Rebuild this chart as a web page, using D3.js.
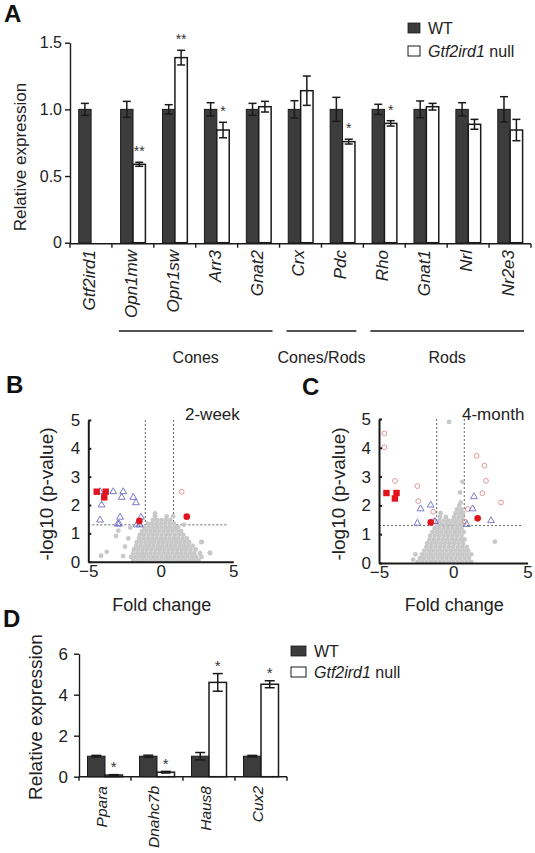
<!DOCTYPE html>
<html><head><meta charset="utf-8">
<script src="https://cdn.jsdelivr.net/npm/d3@7"></script>
<style>body{margin:0;background:#fff} svg{display:block}</style>
</head><body><svg id="c" width="535" height="853"></svg>
<script>
// ---------- Panel A data ----------
const genesA = ["Gtf2ird1","Opn1mw","Opn1sw","Arr3","Gnat2","Crx","Pdc","Rho","Gnat1","Nrl","Nr2e3"];
const wtA = [1,1,1,1,1,1,1,1,1,1,1];
const wtErrA = [0.045,0.06,0.035,0.05,0.045,0.065,0.09,0.038,0.063,0.05,0.095];
const nullA = [null,0.588,1.388,0.845,1.02,1.14,0.758,0.895,1.02,0.888,0.845];
const nullErrA = [0,0.015,0.055,0.058,0.04,0.11,0.018,0.02,0.025,0.037,0.08];
const sigA = ["","**","**","*","","","*","*","","",""];
const ticksA = [0,0.5,1.0,1.5];
const groupNames = ["Cones","Cones/Rods","Rods"];
const groupFrom = ["Opn1mw","Crx","Rho"];
const groupTo = ["Gnat2","Pdc","Nr2e3"];
const legendLabels = ["WT","null"];

// ---------- Panel B data (fold change, -log10 p) ----------
const grayRowsB = [
 [0.04,[-1.9,-1.6,-1.3,-1.0,-0.7,-0.4,-0.1,0.2,0.5,0.8,1.1,1.4,1.7,2.0,2.3,2.6]],
 [0.17,[-2.05,-1.75,-1.45,-1.15,-0.85,-0.55,-0.25,0.05,0.35,0.65,0.95,1.25,1.55,1.85,2.15,2.45,2.8]],
 [0.3,[-1.9,-1.6,-1.3,-1.0,-0.7,-0.4,-0.1,0.2,0.5,0.8,1.1,1.4,1.7,2.0,2.3,2.7,3.4]],
 [0.43,[-1.85,-1.55,-1.25,-0.95,-0.65,-0.35,-0.05,0.25,0.55,0.85,1.15,1.45,1.75,2.05,2.4]],
 [0.56,[-1.7,-1.4,-1.1,-0.8,-0.5,-0.2,0.1,0.4,0.7,1.0,1.3,1.6,1.9,2.2]],
 [0.69,[-1.65,-1.35,-1.05,-0.75,-0.45,-0.15,0.15,0.45,0.75,1.05,1.35,1.65,1.95,2.8]],
 [0.82,[-1.5,-1.2,-0.9,-0.6,-0.3,0.0,0.3,0.6,0.9,1.2,1.5,1.8]],
 [0.95,[-1.45,-1.15,-0.85,-0.55,-0.25,0.05,0.35,0.65,0.95,1.25,1.55]],
 [1.08,[-1.3,-1.0,-0.7,-0.4,-0.1,0.2,0.5,0.8,1.1,1.4]],
 [1.21,[-1.15,-0.85,-0.55,-0.25,0.05,0.35,0.65,0.95,1.2]],
 [1.34,[-0.9,-0.6,-0.3,0.0,0.3,0.6,0.9]],
 [1.47,[-0.55,-0.25,0.05,0.35,0.65]],
 [1.6,[-0.4,0.4,0.85]],
 [1.7,[-0.4]]
];
const grayExtraB = [[-3.09,0.91],[-2.93,1.1],[-3.73,0.35],[-4.12,0.21],[-2.47,0.53],[-2.24,0.82],[3.39,0.32],[2.82,0.7],[-2.1,1.2],[-1.6,1.35],[1.6,1.3],[-2.6,0.2]];
const squaresB = [[-4.42,2.47],[-3.8,2.47],[-3.9,2.27]];
const trianglesB = [[-4.19,2.47],[-3.28,2.47],[-2.59,2.47],[-2.7,2.27],[-1.9,2.27],[-1.71,2.08],[-4.08,2.0],[-4.19,1.47],[-2.81,1.57],[-2.97,1.33],[-2.88,1.33],[-1.37,1.57],[-1.66,1.3],[-1.45,1.3]];
const dotsB = [[-1.48,1.44],[1.79,1.59]];
const ringsB = [[1.44,2.47]];
const vlinesB = [-1.07,0.88];

// ---------- Panel C data ----------
const grayRowsC = [
 [0.04,[-2.4,-2.1,-1.8,-1.5,-1.2,-0.9,-0.6,-0.3,0.0,0.3,0.6,0.9,1.2]],
 [0.17,[-2.25,-1.95,-1.65,-1.35,-1.05,-0.75,-0.45,-0.15,0.15,0.45,0.75,1.05]],
 [0.3,[-2.1,-1.8,-1.5,-1.2,-0.9,-0.6,-0.3,0.0,0.3,0.6,0.9,1.2]],
 [0.43,[-1.95,-1.65,-1.35,-1.05,-0.75,-0.45,-0.15,0.15,0.45,0.75,1.0]],
 [0.56,[-1.8,-1.5,-1.2,-0.9,-0.6,-0.3,0.0,0.3,0.6,0.9]],
 [0.69,[-1.75,-1.45,-1.15,-0.85,-0.55,-0.25,0.05,0.35,0.65]],
 [0.82,[-1.6,-1.3,-1.0,-0.7,-0.4,-0.1,0.2,0.5,0.75]],
 [0.95,[-1.55,-1.25,-0.95,-0.65,-0.35,-0.05,0.25,0.55]],
 [1.08,[-1.4,-1.1,-0.8,-0.5,-0.2,0.1,0.4,0.7]],
 [1.21,[-1.25,-0.95,-0.65,-0.35,-0.05,0.25,0.55]],
 [1.34,[-1.1,-0.8,-0.5,-0.2,0.1,0.4,0.65]],
 [1.47,[-0.95,-0.65,-0.35,-0.05,0.25,0.55]],
 [1.6,[-0.9,-0.5,0.05,0.35,0.6]],
 [1.73,[-0.85,0.15,0.45,0.65]],
 [1.86,[0.25,0.55]],
 [2.0,[0.4]]
];
const grayExtraC = [[-0.28,4.9],[0.61,2.82],[0.45,2.45],[2.8,0.74],[-2.7,0.12],[-2.55,0.3],[0.5,2.1]];
const squaresC = [[-4.5,2.43],[-3.82,2.43],[-3.93,2.24]];
const trianglesC = [[-1.52,2.01],[-2.2,1.88],[-2.42,1.38],[-1.23,1.44],[1.39,2.3],[1.3,1.88],[2.54,1.47],[0.9,1.34]];
const dotsC = [[-1.52,1.41],[1.64,1.55]];
const ringsC = [[-4.64,4.5],[-4.64,4.02],[-3.92,2.85],[-2.42,2.67],[-2.36,2.15],[-1.35,1.78],[-1.35,1.45],[1.57,3.72],[2.09,3.38],[2.2,2.85],[1.96,2.42],[3.21,2.1],[0.97,1.875],[0.79,1.44]];
const vlinesC = [-1.12,0.74];
const pThreshold = 1.3;
const volcanoXTicks = [-5,0,5];
const volcanoYTicks = [0,1,2,3,4,5];

// ---------- Panel D data ----------
const genesD = ["Ppara","Dnahc7b","Haus8","Cux2"];
const wtD = [1,1,1,1];
const wtErrD = [0.04,0.05,0.18,0.04];
const nullD = [0.08,0.22,4.6,4.51];
const nullErrD = [0.02,0.04,0.43,0.17];
const sigD = ["*","*","*","*"];
const ticksD = [0,2,4,6];

// ---------- drawing ----------
const FONT = "Liberation Sans, Arial, Helvetica, sans-serif";
const INK = "#1a1a1a";
const WTFILL = "#3c3c3c";
const svg = d3.select("#c").attr("font-family", FONT);

function styleAxis(g, fs, sw){
  g.attr("font-family", FONT).attr("font-size", fs);
  g.selectAll("text").attr("fill", "#222");
  g.selectAll("path.domain").attr("stroke", INK).attr("stroke-width", sw);
  g.selectAll(".tick line").attr("stroke", INK).attr("stroke-width", sw);
}
function errBar(g, cx, yTop, yBot, cap, sw){
  g.append("line").attr("x1",cx).attr("x2",cx).attr("y1",yTop).attr("y2",yBot).attr("stroke",INK).attr("stroke-width",sw);
  [yTop,yBot].forEach(y=>g.append("line").attr("x1",cx-cap/2).attr("x2",cx+cap/2).attr("y1",y).attr("y2",y).attr("stroke",INK).attr("stroke-width",sw));
}
function panelLetter(t,x,y){
  svg.append("text").attr("x",x).attr("y",y).attr("font-size",24).attr("font-weight","bold").attr("fill","#111").text(t);
}

// ===== Panel A =====
panelLetter("A",4,22);
const xA = d3.scaleBand().domain(genesA).range([70,531]);
const subA = d3.scaleBand().domain(["WT","null"]).range([8.7,33.5]);
const yA = d3.scaleLinear().domain([0,1.5]).range([242.7,42.7]);
const gA = svg.append("g");
const axA = gA.append("g").attr("transform","translate(70,0)")
  .call(d3.axisLeft(yA).tickValues(ticksA).tickFormat(d=>d===0?"0":d.toFixed(1)).tickSizeInner(5).tickSizeOuter(0).tickPadding(3));
styleAxis(axA,16,1.4);
const y0A = yA(0)+1;
gA.append("line").attr("x1",xA.range()[0]).attr("x2",xA.range()[1]).attr("y1",y0A).attr("y2",y0A).attr("stroke",INK).attr("stroke-width",1.4);
[...genesA.map(g=>xA(g)), xA.range()[1]].forEach(x=>gA.append("line").attr("x1",x).attr("x2",x).attr("y1",y0A).attr("y2",y0A+4).attr("stroke",INK).attr("stroke-width",1.4));
genesA.forEach((g,i)=>{
  const xw = xA(g)+subA("WT"), xn = xA(g)+subA("null"), bw = subA.bandwidth();
  gA.append("rect").attr("x",xw).attr("y",yA(wtA[i])).attr("width",bw).attr("height",yA(0)-yA(wtA[i])).attr("fill",WTFILL).attr("stroke",INK).attr("stroke-width",1);
  errBar(gA, xw+bw/2, yA(wtA[i]+wtErrA[i]), yA(wtA[i]-wtErrA[i]), 8, 1.5);
  if(nullA[i]!==null){
    gA.append("rect").attr("x",xn).attr("y",yA(nullA[i])).attr("width",bw).attr("height",yA(0)-yA(nullA[i])).attr("fill","#fff").attr("stroke",INK).attr("stroke-width",1.5);
    errBar(gA, xn+bw/2, yA(nullA[i]+nullErrA[i]), yA(nullA[i]-nullErrA[i]), 8, 1.5);
    if(sigA[i]) gA.append("text").attr("x",xn+bw/2).attr("y",yA(nullA[i]+nullErrA[i])-14+8).attr("text-anchor","middle").attr("font-size",14).attr("fill","#333").text(sigA[i]);
  }
  gA.append("text").attr("transform",`translate(${xA(g)+xA.bandwidth()/2-2},250) rotate(-90)`).attr("text-anchor","end").attr("dy","0.35em").attr("font-size",17).attr("font-style","italic").attr("fill","#222").text(g);
});
gA.append("text").attr("transform","translate(20,157) rotate(-90)").attr("text-anchor","middle").attr("dy","0.35em").attr("font-size",17).attr("fill","#222").text("Relative expression");
groupNames.forEach((n,i)=>{
  const x1 = xA(groupFrom[i])+7, x2 = xA(groupTo[i])+xA.bandwidth()-7;
  gA.append("line").attr("x1",x1).attr("x2",x2).attr("y1",331).attr("y2",331).attr("stroke",INK).attr("stroke-width",1.5);
  gA.append("text").attr("x",(x1+x2)/2).attr("y",363).attr("text-anchor","middle").attr("font-size",16).attr("fill","#222").text(n);
});
function legend(g, x, y, w, h, gap, fs){
  g.append("rect").attr("x",x).attr("y",y).attr("width",w).attr("height",h).attr("fill",WTFILL).attr("stroke",INK).attr("stroke-width",0.8);
  g.append("text").attr("x",x+w+8).attr("y",y+h/2+5.8).attr("font-size",fs).attr("fill","#222").text(legendLabels[0]);
  g.append("rect").attr("x",x).attr("y",y+gap).attr("width",w).attr("height",h).attr("fill","#fff").attr("stroke",INK).attr("stroke-width",1);
  const t = g.append("text").attr("x",x+w+8).attr("y",y+gap+h/2+5.8).attr("font-size",fs).attr("fill","#222");
  t.append("tspan").attr("font-style","italic").text("Gtf2ird1");
  t.append("tspan").text(" "+legendLabels[1]);
}
legend(gA, 408, 23, 12, 10, 23, 16);

// ===== Panels B, C =====
function volcano(o){
  const g = svg.append("g");
  const x = d3.scaleLinear().domain([-5,5]).range(o.xr);
  const y = d3.scaleLinear().domain([0,5]).range(o.yr);
  o.vl.forEach(v=>g.append("line").attr("x1",x(v)).attr("x2",x(v)).attr("y1",y(5)).attr("y2",y(pThreshold)).attr("stroke","#555").attr("stroke-width",0.9).attr("stroke-dasharray","2,2"));
  g.append("line").attr("x1",x(-5)).attr("x2",x(4.6)).attr("y1",y(pThreshold)).attr("y2",y(pThreshold)).attr("stroke","#555").attr("stroke-width",0.9).attr("stroke-dasharray","2,2");
  const gray = o.rows.flatMap(r=>r[1].map(f=>[f,r[0]])).concat(o.extra);
  g.selectAll("circle.gray").data(gray).join("circle").attr("class","gray").attr("cx",d=>x(d[0])).attr("cy",d=>y(d[1])).attr("r",2.4).attr("fill","#c8c8c8");
  g.selectAll("circle.ring").data(o.rings).join("circle").attr("class","ring").attr("cx",d=>x(d[0])).attr("cy",d=>y(d[1])).attr("r",2.4).attr("fill","none").attr("stroke","#de8c8c").attr("stroke-width",0.9);
  const tri = d3.symbol().type(d3.symbolTriangle).size(20);
  g.selectAll("path.tri").data(o.tris).join("path").attr("class","tri").attr("transform",d=>`translate(${x(d[0])},${y(d[1])})`).attr("d",tri).attr("fill","none").attr("stroke","#6b6bc6").attr("stroke-width",0.9);
  g.selectAll("rect.sq").data(o.sqs).join("rect").attr("class","sq").attr("x",d=>x(d[0])-3.2).attr("y",d=>y(d[1])-3.2).attr("width",6.4).attr("height",6.4).attr("fill","#e0141c");
  g.selectAll("circle.dot").data(o.dots).join("circle").attr("class","dot").attr("cx",d=>x(d[0])).attr("cy",d=>y(d[1])).attr("r",3.3).attr("fill","#e0141c");
  const ay = g.append("g").attr("transform",`translate(${o.xr[0]},0)`).call(d3.axisLeft(y).tickValues(volcanoYTicks).tickFormat(d3.format("d")).tickSizeInner(-3).tickSizeOuter(0).tickPadding(8));
  styleAxis(ay,17,2);
  const ax = g.append("g").attr("transform",`translate(0,${o.yr[0]})`).call(d3.axisBottom(x).tickValues(volcanoXTicks).tickFormat(d3.format("d")).tickSize(0).tickPadding(3));
  styleAxis(ax,17,2);
  g.append("text").attr("transform",`translate(${o.ylx},494) rotate(-90)`).attr("text-anchor","middle").attr("dy","0.35em").attr("font-size",19).attr("fill","#222").text("-log10 (p-value)");
  g.append("text").attr("x",x(0)+1).attr("y",611).attr("text-anchor","middle").attr("font-size",18).attr("fill","#222").text("Fold change");
  g.append("text").attr("x",o.tx).attr("y",420).attr("font-size",17).attr("fill","#222").text(o.title);
}
panelLetter("B",6,393);
volcano({xr:[88.3,233.3], yr:[561.7,420], vl:vlinesB, rows:grayRowsB, extra:grayExtraB, rings:ringsB, tris:trianglesB, sqs:squaresB, dots:dotsB, ylx:46, tx:185, title:"2-week"});
panelLetter("C",302,395);
volcano({xr:[379,527.6], yr:[563,419], vl:vlinesC, rows:grayRowsC, extra:grayExtraC, rings:ringsC, tris:trianglesC, sqs:squaresC, dots:dotsC, ylx:338, tx:462, title:"4-month"});

// ===== Panel D =====
panelLetter("D",3,627);
const xD = d3.scaleBand().domain(genesD).range([79,287]);
const subD = d3.scaleBand().domain(["WT","null"]).range([8.5,43.5]);
const yD = d3.scaleLinear().domain([0,6]).range([776.7,653.7]);
const gD = svg.append("g");
const axD = gD.append("g").attr("transform","translate(79,0)")
  .call(d3.axisLeft(yD).tickValues(ticksD).tickFormat(d3.format("d")).tickSizeInner(5).tickSizeOuter(0).tickPadding(6));
styleAxis(axD,17,1.4);
const y0D = yD(0);
gD.append("line").attr("x1",xD.range()[0]).attr("x2",xD.range()[1]).attr("y1",y0D).attr("y2",y0D).attr("stroke",INK).attr("stroke-width",1.4);
[...genesD.map(g=>xD(g)), xD.range()[1]].forEach(x=>gD.append("line").attr("x1",x).attr("x2",x).attr("y1",y0D).attr("y2",y0D+4).attr("stroke",INK).attr("stroke-width",1.4));
genesD.forEach((g,i)=>{
  const xw = xD(g)+subD("WT"), xn = xD(g)+subD("null"), bw = subD.bandwidth();
  gD.append("rect").attr("x",xw).attr("y",yD(wtD[i])).attr("width",bw).attr("height",yD(0)-yD(wtD[i])).attr("fill",WTFILL).attr("stroke",INK).attr("stroke-width",1);
  errBar(gD, xw+bw/2, yD(wtD[i]+wtErrD[i]), yD(wtD[i]-wtErrD[i]), 10, 1.5);
  gD.append("rect").attr("x",xn).attr("y",yD(nullD[i])).attr("width",bw).attr("height",yD(0)-yD(nullD[i])).attr("fill","#fff").attr("stroke",INK).attr("stroke-width",1.5);
  errBar(gD, xn+bw/2, yD(nullD[i]+nullErrD[i]), yD(nullD[i]-nullErrD[i]), 10, 1.5);
  gD.append("text").attr("x",xn+bw/2).attr("y",yD(nullD[i]+nullErrD[i])-11+8.5).attr("text-anchor","middle").attr("font-size",15).attr("fill","#333").text(sigD[i]);
  gD.append("text").attr("transform",`translate(${xD(g)+xD.bandwidth()/2-3},786) rotate(-90)`).attr("text-anchor","end").attr("dy","0.35em").attr("font-size",15.5).attr("font-style","italic").attr("fill","#222").text(g);
});
gD.append("text").attr("transform","translate(35,717) rotate(-90)").attr("text-anchor","middle").attr("dy","0.35em").attr("font-size",19).attr("fill","#222").text("Relative expression");
legend(gD, 291, 646, 15, 10, 21, 16);
</script></body></html>
